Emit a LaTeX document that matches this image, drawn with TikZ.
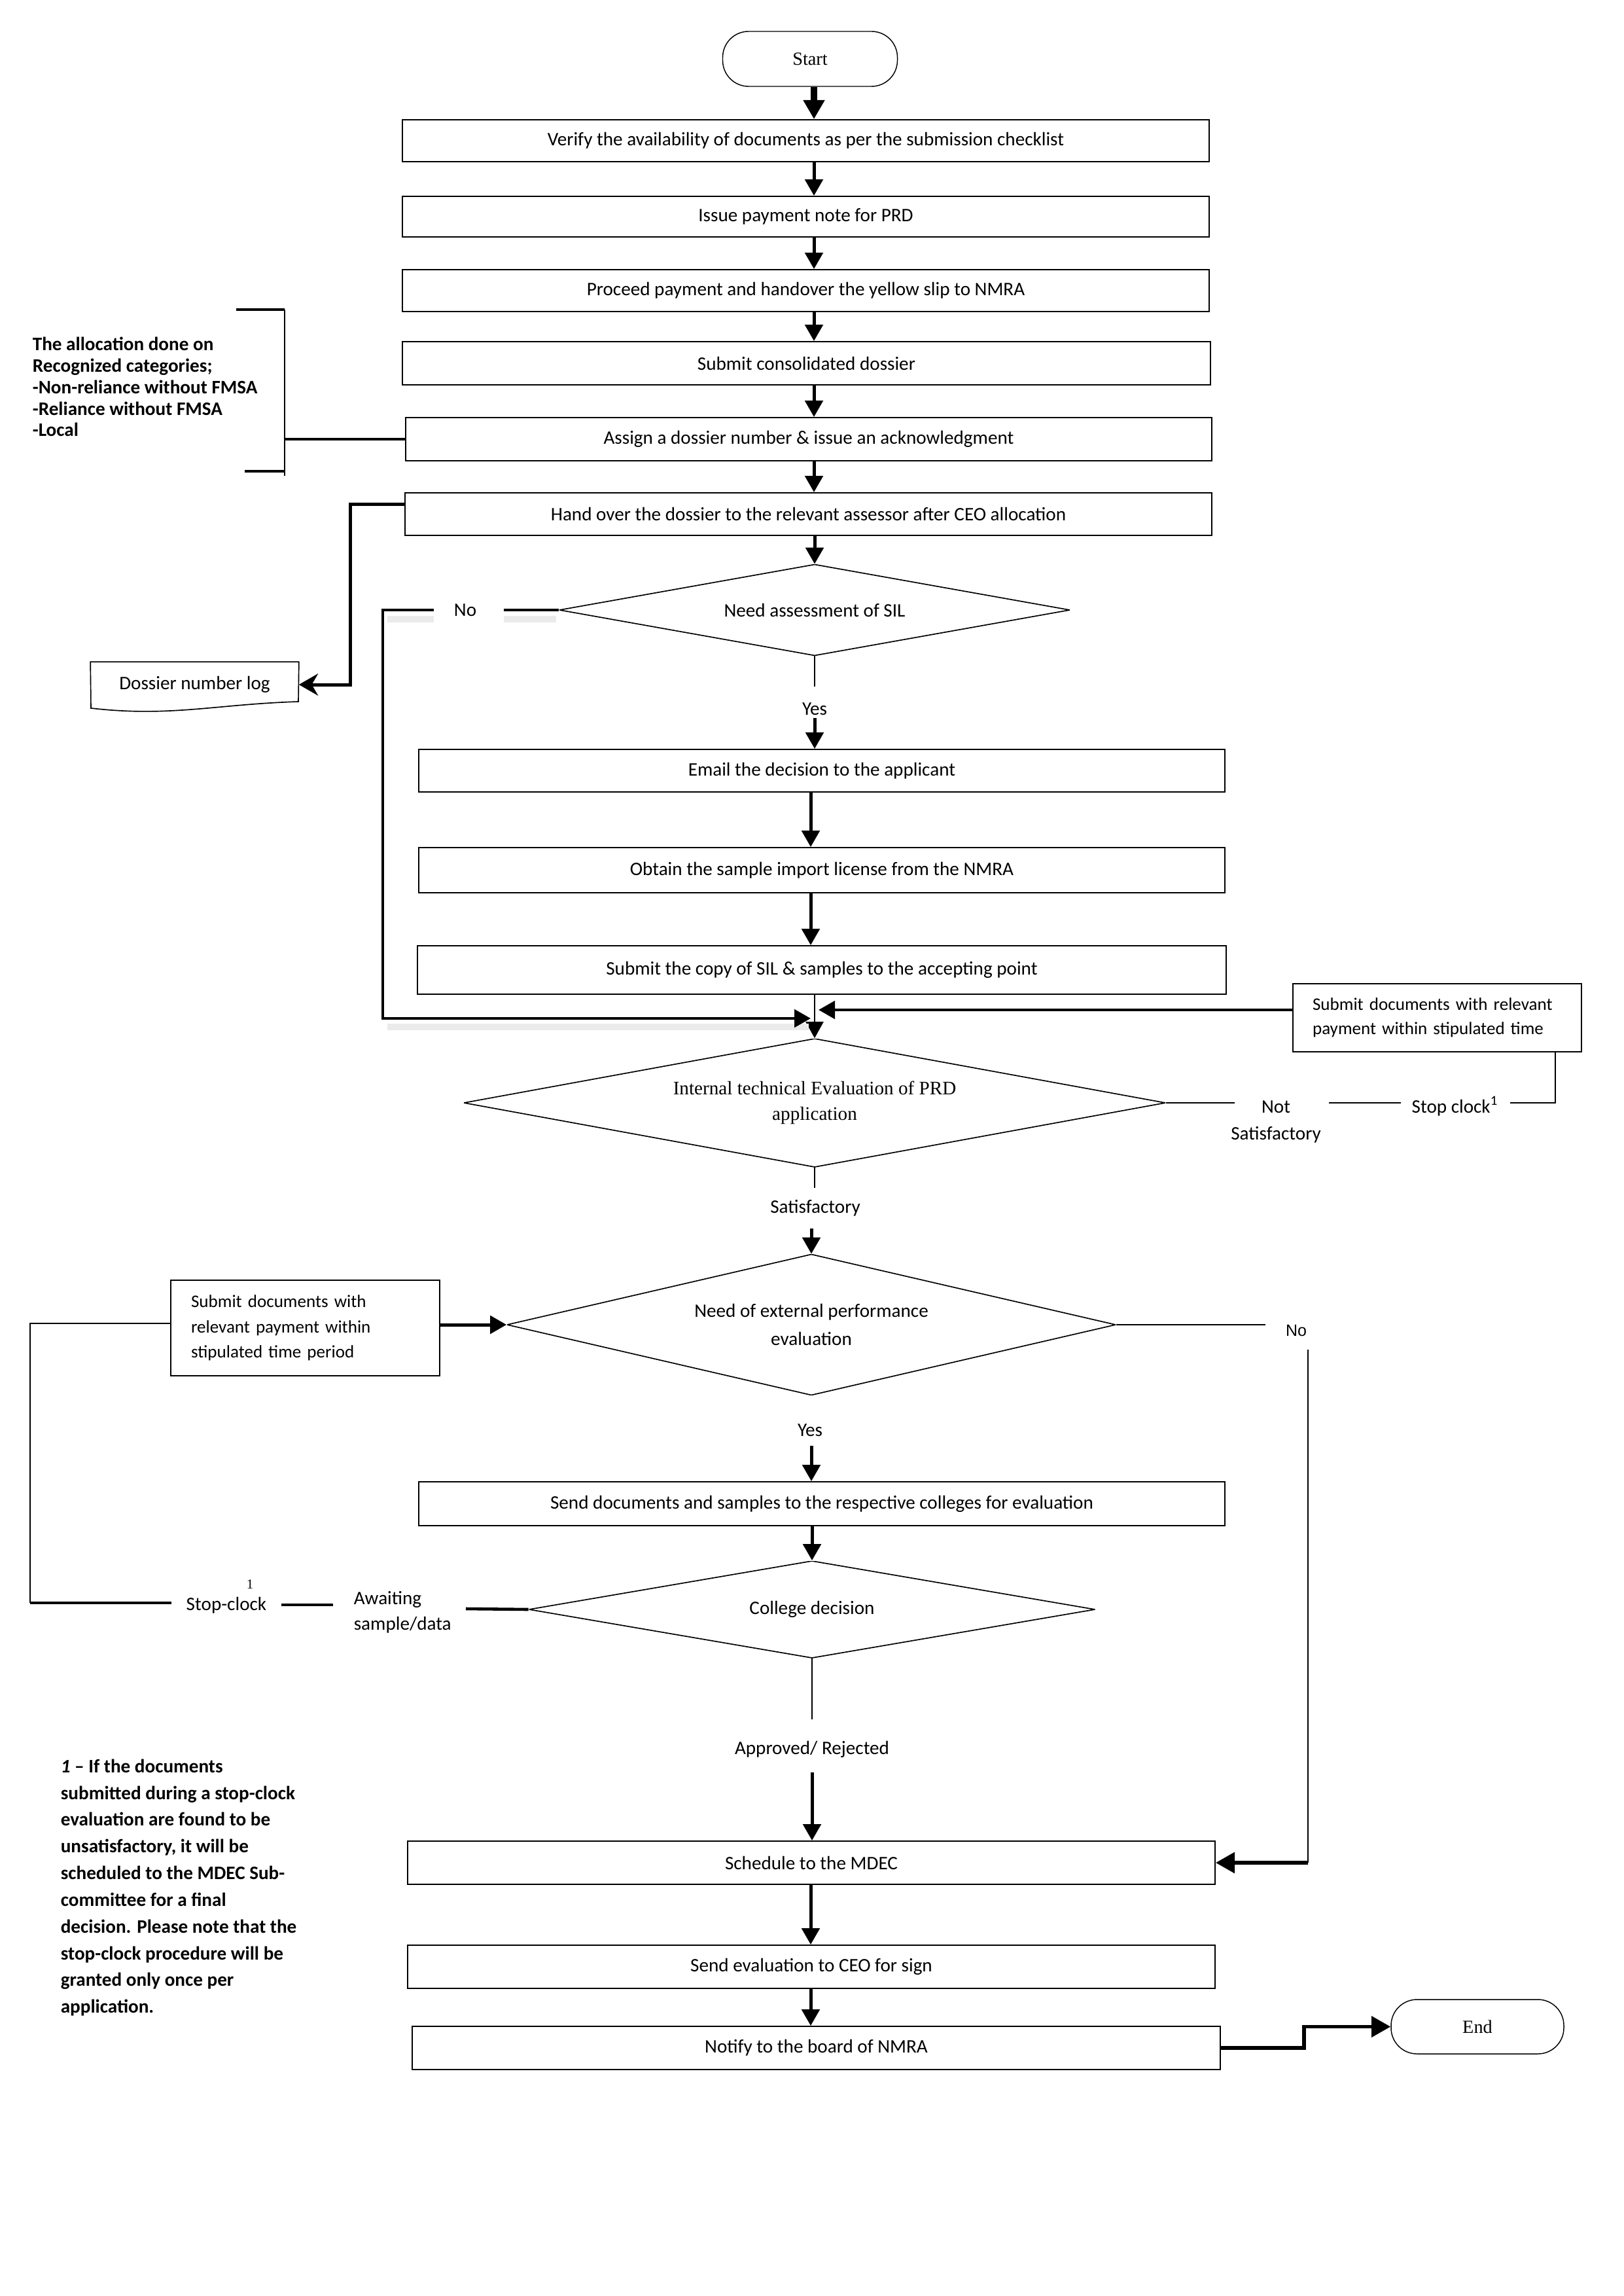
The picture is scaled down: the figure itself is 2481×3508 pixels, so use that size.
\documentclass[tikz,border=0pt]{standalone}
\usepackage{fontspec}
\setmainfont{Carlito}
\newfontfamily\serifF{Liberation Serif}
\newfontfamily\arialF{Liberation Sans}
\usetikzlibrary{shapes.geometric,arrows.meta}
\tikzset{
  sz/.style 2 args={minimum width=#1*0.24pt, minimum height=#2*0.24pt},
  box/.style={draw, line width=0.45pt, inner sep=0pt, font=\fontsize{7}{8.4}\selectfont},
  sidebox/.style={draw, line width=0.45pt, inner ysep=0pt, align=left, font=\fontsize{6.5}{9}\selectfont},
  term/.style={draw, line width=0.35pt, rounded corners=9.5pt, inner sep=0pt, font=\serifF\fontsize{6.8}{8}\selectfont},
  dia/.style={rectangle, inner sep=0pt, font=\fontsize{7}{8.4}\selectfont,
    path picture={\draw[line width=0.4pt] (path picture bounding box.north) -- (path picture bounding box.east)
      -- (path picture bounding box.south) -- (path picture bounding box.west) -- cycle;}},
  lbl/.style={inner sep=0pt, font=\fontsize{7}{8.4}\selectfont},
  tn/.style={line width=0.45pt},
  tk/.style={line width=1.1pt},
  tipA/.style={-{Triangle[width=6.5pt,length=6pt]}},
  tipB/.style={-{Triangle[width=7.5pt,length=7pt]}},
  tipS/.style={-{Stealth[width=8pt,length=7pt]}},
  arr/.style={line width=1.2pt, tipA},
  shd/.style={line width=2.4pt, black!8},
}
\begin{document}
\begin{tikzpicture}[x=0.24pt, y=-0.24pt]
\useasboundingbox (0,0) rectangle (2481,3508);
\fill[white] (0,0) rectangle (2481,3508);

\coordinate (c1) at (1244,0);
\coordinate (c2) at (1239,0);

% main column
\node[term, sz={267}{84}] (start) at (1238,90) {Start};
\node[box, sz={1233}{64}] (b1) at (1231.5,215) {Verify the availability of documents as per the submission checklist};
\node[box, sz={1233}{62}] (b2) at (1231.5,331) {Issue payment note for PRD};
\node[box, sz={1233}{64}] (b3) at (1231.5,444) {Proceed payment and handover the yellow slip to NMRA};
\node[box, sz={1235}{66}] (b4) at (1232.5,555) {Submit consolidated dossier};
\node[box, sz={1232}{66}] (b5) at (1236,671) {Assign a dossier number \& issue an acknowledgment};
\node[box, sz={1233}{65}] (b6) at (1235.5,785.5) {Hand over the dossier to the relevant assessor after CEO allocation};
\node[dia, sz={780}{139}] (d1) at (1245,932) {Need assessment of SIL};
\node[box, sz={1232}{65}] (b7) at (1256,1177.5) {Email the decision to the applicant};
\node[box, sz={1232}{69}] (b8) at (1256,1329.5) {Obtain the sample import license from the NMRA};
\node[box, sz={1236}{74}] (b9) at (1256,1482) {Submit the copy of SIL \& samples to the accepting point};
\node[dia, sz={1072}{196}, font=\serifF\fontsize{7}{9.4}\selectfont, align=center] (d2) at (1245,1685) {Internal technical Evaluation of PRD\\application};
\node[dia, sz={930}{215}, font=\fontsize{7}{10.3}\selectfont, align=center] (d3) at (1240,2024) {Need of external performance\\evaluation};
\node[box, sz={1232}{67}] (b10) at (1256,2297.5) {Send documents and samples to the respective colleges for evaluation};
\node[dia, sz={865}{148}] (d4) at (1241,2459) {College decision};
\node[box, sz={1234}{66}] (b11) at (1240,2846) {Schedule to the MDEC};
\node[box, sz={1234}{66}] (b12) at (1240,3005) {Send evaluation to CEO for sign};
\node[box, sz={1235}{66}] (b13) at (1247.5,3129) {Notify to the board of NMRA};
\node[term, sz={264}{83}] (end) at (2258,3096.5) {End};

% side boxes
\node[sidebox, minimum height=104*0.24pt, inner xsep=30*0.24pt, text width=381*0.24pt] (r1) at (2196.5,1555) {Submit documents with relevant\\payment within stipulated time};
\node[sidebox, minimum height=146*0.24pt, inner xsep=31*0.24pt, text width=349*0.24pt, font=\fontsize{6.5}{9.2}\selectfont] (l1) at (466.5,2029) {Submit documents with\\relevant payment within\\stipulated time period};

% dossier number log (document shape)
\node[lbl, sz={317}{68}] (dlog) at (297.5,1046) {Dossier number log};
\draw[line width=0.4pt] (dlog.north west) -- (dlog.north east) -- (456,1072)
  .. controls (330,1076) and (260,1096) .. (139,1082) -- cycle;

% labels
\node[lbl] (no1) at (711,932) {No};
\node[lbl] (yes1) at (1245,1083) {Yes};
\node[lbl, align=center, font=\fontsize{7}{10}\selectfont] (ns) at (1950,1714) {Not\\Satisfactory};
\node[lbl] (sc) at (2224,1690) {Stop clock\textsuperscript{1}};
\node[lbl] (sat) at (1246,1846) {Satisfactory};
\node[lbl, font=\arialF\fontsize{6}{7}\selectfont] (no2) at (1981,2033) {No};
\node[lbl] (yes2) at (1238,2185) {Yes};
\node[lbl, align=left, anchor=west, font=\fontsize{7}{9.4}\selectfont] (aw) at (540,2463) {Awaiting\\sample/data};
\node[lbl] (scl) at (346,2453) {Stop-clock};
\node[lbl, font=\serifF\fontsize{5}{6}\selectfont] (sup1) at (382,2421) {1};
\node[lbl] (ar) at (1241,2673) {Approved/ Rejected};

\node[lbl, anchor=west, align=left, font=\bfseries\fontsize{7}{7.9}\selectfont] (alloc) at (49,591)
  {The allocation done on\\Recognized categories;\\-Non-reliance without FMSA\\-Reliance without FMSA\\-Local};
\node[lbl, anchor=west, align=left, font=\bfseries\fontsize{7}{9.8}\selectfont] (fn) at (92,2884)
  {\textit{1} -- If the documents\\submitted during a stop-clock\\evaluation are found to be\\unsatisfactory, it will be\\scheduled to the MDEC Sub-\\committee for a final\\decision. Please note that the\\stop-clock procedure will be\\granted only once per\\application.};

% main flow arrows
\draw[line width=2.4pt, -{Triangle[width=7.5pt,length=7pt]}] (start.south -| c1) -- (b1.north -| c1);
\foreach \a/\b in {b1/b2,b2/b3,b3/b4,b4/b5,b5/b6}
  \draw[arr] (\a.south -| c1) -- (\b.north -| c1);
\draw[arr] (b6.south -| d1.north) -- (d1.north);

\coordinate (y1a) at (1245,1049);
\coordinate (y1b) at (1245,1097);
\draw[tn] (d1.south) -- (y1a);
\draw[arr] (y1b) -- (y1b |- b7.north);
\draw[arr] (b7.south -| c2) -- (b8.north -| c2);
\draw[arr] (b8.south -| c2) -- (b9.north -| c2);
\draw[tn, tipA] (b9.south -| d2.north) -- (d2.north);

% No loop from SIL decision
\coordinate (n1a) at (770,932);
\coordinate (n1b) at (663,932);
\coordinate (n1c) at (585,932);
\coordinate (n1d) at (585,1556);
\coordinate (j1) at (1239,1556);
\draw[shd] (592,946) -- (663,946);
\draw[shd] (770,946) -- (850,946);
\draw[shd] (592,1569) -- (1236,1569);
\draw[tk] (d1.west) -- (n1a);
\draw[tk, tipA] (n1b) -- (n1c) -- (n1d) -- (j1);
\coordinate (j2) at (1251,1543);
\draw[tk, tipA] (r1.west |- j2) -- (j2);

% Not satisfactory / stop clock (right)
\coordinate (ns1) at (1887,1685);
\coordinate (ns2) at (2031,1685);
\coordinate (ns3) at (2141,1685);
\coordinate (ns4) at (2308,1685);
\coordinate (ns5) at (2377,1685);
\draw[tn] (d2.east) -- (ns1);
\draw[tn] (ns2) -- (ns3);
\draw[tn] (ns4) -- (ns5) -- (ns5 |- r1.south);

% Satisfactory
\coordinate (s1a) at (1245,1815);
\coordinate (s1b) at (1245,1877);
\draw[tn] (d2.south) -- (s1a);
\draw[arr] (d3.north |- s1b) -- (d3.north);

% into external evaluation from left box
\draw[arr] (l1.east |- d3.west) -- (d3.west);

% external: No
\coordinate (no2a) at (1934,2024);
\coordinate (no2b) at (1999,2062);
\draw[tn] (d3.east) -- (no2a);
\draw[tn] (no2b) -- (no2b |- b11.east);
\draw[line width=1.4pt, tipB] (no2b |- b11.east) -- (b11.east);

% external: Yes
\coordinate (y2b) at (1240,2209);
\draw[arr] (y2b) -- (y2b |- b10.north);
\draw[arr] (b10.south -| d4.north) -- (d4.north);

% college decision: awaiting / stop-clock loop
\coordinate (a1) at (712,2458);
\coordinate (a2) at (509,2452);
\coordinate (a3) at (430,2452);
\coordinate (a4) at (262,2449);
\coordinate (a5) at (46,2449);
\coordinate (a6) at (46,2022);
\draw[tk] (d4.west) -- (a1);
\draw[tk] (a2) -- (a3);
\draw[tk] (a4) -- (a5);
\draw[tn] (a5) -- (a6) -- (a6 -| l1.west);

% college decision: approved / rejected
\coordinate (ar1) at (1241,2627);
\coordinate (ar2) at (1241,2708);
\draw[tn] (d4.south) -- (ar1);
\draw[arr] (ar2) -- (ar2 |- b11.north);
\draw[arr] (b11.south -| c2) -- (b12.north -| c2);
\draw[arr] (b12.south -| c2) -- (b13.north -| c2);

% to End
\coordinate (ej) at (1993,0);
\draw[line width=1.4pt, tipB] (b13.east) -- (b13.east -| ej) |- (end.west);

% to dossier number log
\coordinate (dl1) at (535,771);
\draw[line width=1.2pt, tipS] (b6.west |- dl1) -- (dl1) |- (dlog.east);

% allocation bracket
\coordinate (br1) at (361,473);
\coordinate (br2) at (435,473);
\coordinate (br3) at (435,727);
\coordinate (br4) at (374,720);
\coordinate (br5) at (435,720);
\coordinate (br6) at (435,671);
\draw[tk] (br1) -- (br2);
\draw[tn] (br2) -- (br3);
\draw[tk] (br4) -- (br5);
\draw[tk] (br6) -- (br6 -| b5.west);
\end{tikzpicture}
\end{document}
